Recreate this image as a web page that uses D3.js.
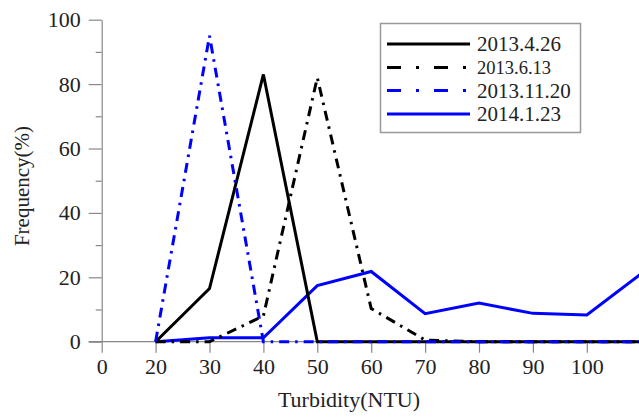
<!DOCTYPE html>
<html>
<head>
<meta charset="utf-8">
<script src="https://cdn.jsdelivr.net/npm/d3@7"></script>
<style>
  body { margin: 0; background: #fff; }
  svg { display: block; }
  text { font-family: "Liberation Serif", "Times New Roman", serif; fill: #222; }
</style>
</head>
<body>
<div id="chart"></div>
<script>
// turbidity classes (the axis is evenly spaced by class, not by value)
let categories = ["0", "20", "30", "40", "50", "60", "70", "80", "90", "100", "110"];
let tickLabels = ["0", "20", "30", "40", "50", "60", "70", "80", "90", "100"];
let dataCats = ["20", "30", "40", "50", "60", "70", "80", "90", "100", "110"];

let apr26 = [0, 16.5, 83, 0, 0, 0, 0, 0, 0, 0];
let jun13 = [0, 0, 8, 82, 10.3, 0.5, 0, 0, 0, 0];
let nov20 = [0, 95, 0, 0, 0, 0, 0, 0, 0, 0];
let jan23 = [0, 1.2, 1.2, 17.4, 21.8, 8.7, 12, 8.8, 8.3, 21];

let seriesNames = ["2013.4.26", "2013.6.13", "2013.11.20", "2014.1.23"];
let yTicks = [0, 20, 40, 60, 80, 100];
let yMinor = [10, 30, 50, 70, 90];

let width = 639, height = 417;

let svg = d3.select("#chart").append("svg")
    .attr("width", width)
    .attr("height", height);

// scales
let x = d3.scalePoint()
    .domain(categories)
    .range([101.7, 640.7]);

let y = d3.scaleLinear()
    .domain([0, 100])
    .range([341.7, 19.7]);

let axisColor = "#888";

// y axis
let yAxisMajor = d3.axisLeft(y).tickValues(yTicks).tickSize(13).tickPadding(8).tickSizeOuter(0);
let yAxisMinor = d3.axisLeft(y).tickValues(yMinor).tickSize(6).tickFormat("").tickSizeOuter(0);

svg.append("g")
    .attr("class", "y-axis")
    .attr("transform", "translate(" + x("0") + ",0)")
    .call(yAxisMajor);
svg.append("g")
    .attr("transform", "translate(" + x("0") + ",0)")
    .call(yAxisMinor)
    .select(".domain").remove();

// x axis
let gx = svg.append("g")
    .attr("class", "x-axis")
    .attr("transform", "translate(0," + y(0) + ")")
    .call(d3.axisBottom(x).tickValues(tickLabels).tickSize(11).tickPadding(6).tickSizeOuter(0));
gx.select(".domain").remove();
gx.append("line")
    .attr("x1", x("0") - 13)
    .attr("x2", width + 5)
    .attr("stroke", axisColor)
    .attr("stroke-width", 1.2);

svg.selectAll(".tick line, .domain")
    .attr("stroke", axisColor)
    .attr("stroke-width", 1.2);
svg.selectAll(".tick text")
    .style("font-family", "'Liberation Serif', serif")
    .style("font-size", "22px")
    .attr("fill", "#222");

// axis titles
svg.append("text")
    .attr("x", 349)
    .attr("y", 407)
    .attr("text-anchor", "middle")
    .style("font-size", "22px")
    .text("Turbidity(NTU)");

svg.append("text")
    .attr("transform", "translate(29,186) rotate(-90)")
    .attr("text-anchor", "middle")
    .style("font-size", "21px")
    .text("Frequency(%)");

// lines
let line = d3.line()
    .x(function(d, i) { return x(dataCats[i]); })
    .y(function(d) { return y(d); });

let styles = [
    {data: apr26, color: "#000", dash: null},
    {data: jun13, color: "#000", dash: "10,6,2.5,6"},
    {data: nov20, color: "#0000ff", dash: "10,6,2.5,6"},
    {data: jan23, color: "#0000ff", dash: null}
];

let drawOrder = [3, 0, 1, 2];
drawOrder.forEach(function(k) {
    let s = styles[k];
    svg.append("path")
        .attr("d", line(s.data))
        .attr("fill", "none")
        .attr("stroke", s.color)
        .attr("stroke-width", 3)
        .attr("stroke-linejoin", "miter")
        .attr("stroke-dasharray", s.dash);
});

// legend
let legend = svg.append("g").attr("class", "legend");
legend.append("rect")
    .attr("x", 380.5)
    .attr("y", 23.5)
    .attr("width", 200)
    .attr("height", 109)
    .attr("fill", "#fff")
    .attr("stroke", "#999")
    .attr("stroke-width", 1.5);

let rowY = [44, 67.5, 90.5, 114];
let legendSizes = [21, 18.5, 21, 21];
seriesNames.forEach(function(name, i) {
    let s = styles[i];
    legend.append("line")
        .attr("x1", 387)
        .attr("x2", 470)
        .attr("y1", rowY[i])
        .attr("y2", rowY[i])
        .attr("stroke", s.color)
        .attr("stroke-width", 3)
        .attr("stroke-dasharray", s.dash ? "14,15,3,15" : null);
    legend.append("text")
        .attr("x", 477)
        .attr("y", rowY[i])
        .attr("dy", "0.35em")
        .style("font-size", legendSizes[i] + "px")
        .text(name);
});
</script>
</body>
</html>
